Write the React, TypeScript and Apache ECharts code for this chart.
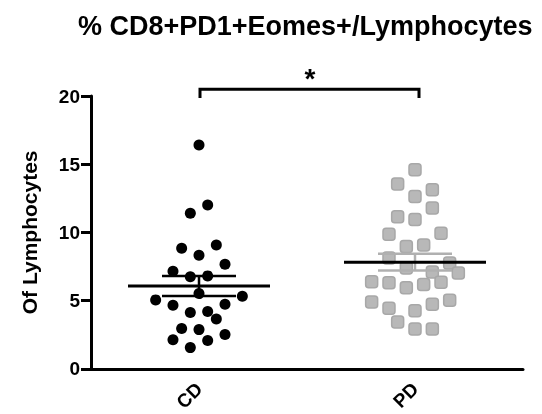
import React, { useEffect, useRef } from "react";
import * as echarts from "echarts";

const categories = ["CD", "PD"];
const cdValues = [16.4, 12.0, 11.4, 8.84, 9.08, 8.33, 7.66, 7.15, 6.74, 6.81, 5.51, 5.31, 5.05, 4.66, 4.73, 4.13, 4.2, 3.65, 2.95, 2.87, 2.51, 2.13, 2.08, 1.55];
const cdSlots = [0, 1, -1, -2, 2, 0, 3, -3, -1, 1, 0, 5, -5, -3, 3, -1, 1, 2, -2, 0, 3, -3, 1, -1];
const pdValues = [14.59, 13.55, 13.12, 12.63, 11.79, 11.14, 10.94, 9.86, 9.93, 8.96, 9.08, 8.12, 7.75, 7.39, 7.1, 7.03, 6.38, 6.3, 5.94, 6.18, 6.35, 4.9, 4.44, 4.25, 4.73, 5.02, 3.43, 2.92, 2.92];
const pdSlots = [0, -2, 2, 0, 2, -2, 0, -3, 3, -1, 1, -3, 4, -1, 2, 5, -5, -3, -1, 1, 3, -5, -3, 0, 2, 4, -2, 0, 2];
const yMin = 0;
const yMax = 20;
const yInterval = 5;
const titleText = "% CD8+PD1+Eomes+/Lymphocytes";
const yAxisName = "Of Lymphocytes";
const significanceMark = "*";
const bracketLevel = 20.5;
const bracketDrop = 0.65;
const starLevel = 21.3;

const SLOT_PX = 8.67;
const FONT = "Liberation Sans";

function meanSem(v: number[]) {
  const n = v.length;
  const m = v.reduce((a, b) => a + b, 0) / n;
  const sd = Math.sqrt(v.reduce((a, b) => a + (b - m) * (b - m), 0) / (n - 1));
  return [m, sd / Math.sqrt(n)];
}

export default function App() {
  const ref = useRef<HTMLDivElement>(null);
  useEffect(() => {
    if (!ref.current) return;
    const chart = echarts.init(ref.current, undefined, { renderer: "svg" });
    const [cdMean, cdSem] = meanSem(cdValues);
    const [pdMean, pdSem] = meanSem(pdValues);
    const cdData = cdValues.map((v, i) => ({ value: [categories[0], v], symbolOffset: [cdSlots[i] * SLOT_PX, 0] }));
    const pdData = pdValues.map((v, i) => ({ value: [categories[1], v], symbolOffset: [pdSlots[i] * SLOT_PX, 0] }));
    chart.setOption({
      animation: false,
      title: {
        text: titleText,
        left: 78,
        top: 12,
        padding: 0,
        textStyle: { fontFamily: FONT, fontWeight: "bold", fontSize: 27, color: "#000" },
      },
      grid: { left: 91, right: 19, top: 96, bottom: 42, containLabel: false },
      xAxis: {
        type: "category",
        data: categories,
        boundaryGap: true,
        axisLine: { lineStyle: { color: "#000", width: 3 } },
        axisTick: { alignWithLabel: true, length: 10, lineStyle: { color: "#000", width: 3 } },
        axisLabel: { rotate: 45, margin: 17, color: "#000", fontFamily: FONT, fontWeight: "bold", fontSize: 19 },
        splitLine: { show: false },
      },
      yAxis: {
        type: "value",
        min: yMin,
        max: yMax,
        interval: yInterval,
        name: yAxisName,
        nameLocation: "middle",
        nameRotate: 90,
        nameGap: 51,
        nameTextStyle: { fontFamily: FONT, fontWeight: "bold", fontSize: 21, color: "#000" },
        axisLine: { show: true, lineStyle: { color: "#000", width: 3 } },
        axisTick: { show: true, length: 10, lineStyle: { color: "#000", width: 3 } },
        axisLabel: { margin: 11, color: "#000", fontFamily: FONT, fontWeight: "bold", fontSize: 19 },
        splitLine: { show: false },
      },
      series: [
        {
          type: "scatter",
          data: cdData,
          symbol: "circle",
          symbolSize: 11,
          itemStyle: { color: "#000", opacity: 1 },
          z: 2,
        },
        {
          type: "scatter",
          data: pdData,
          symbol: "roundRect",
          symbolSize: 12,
          itemStyle: { color: "#b8b8b8", borderColor: "#a8a8a8", borderWidth: 1.5, opacity: 1 },
          z: 2,
        },
        {
          type: "custom",
          z: 3,
          data: [
            [0, cdMean, cdSem],
            [1, pdMean, pdSem],
          ],
          encode: { x: 0, y: 1 },
          renderItem: (params: any, api: any) => {
            const i = api.value(0);
            const m = api.value(1);
            const s = api.value(2);
            const c = api.coord([i, m]);
            const yt = api.coord([i, m + s])[1];
            const yb = api.coord([i, m - s])[1];
            const semColor = i === 0 ? "#000" : "#b0b0b0";
            return {
              type: "group",
              children: [
                { type: "line", shape: { x1: c[0], y1: yt, x2: c[0], y2: yb }, style: { stroke: semColor, lineWidth: 2.5 } },
                { type: "line", shape: { x1: c[0] - 37, y1: yt, x2: c[0] + 37, y2: yt }, style: { stroke: semColor, lineWidth: 2.5 } },
                { type: "line", shape: { x1: c[0] - 37, y1: yb, x2: c[0] + 37, y2: yb }, style: { stroke: semColor, lineWidth: 2.5 } },
                { type: "line", shape: { x1: c[0] - 71, y1: c[1], x2: c[0] + 71, y2: c[1] }, style: { stroke: "#000", lineWidth: 3 } },
              ],
            };
          },
        },
        {
          type: "custom",
          z: 3,
          clip: false,
          data: [[0, 1, bracketLevel]],
          encode: { x: 0, y: 2 },
          renderItem: (params: any, api: any) => {
            const a = api.coord([api.value(0), api.value(2)]);
            const b = api.coord([api.value(1), api.value(2)]);
            const yd = api.coord([api.value(0), api.value(2) - bracketDrop])[1];
            const ys = api.coord([api.value(0), starLevel])[1];
            return {
              type: "group",
              children: [
                {
                  type: "polyline",
                  shape: { points: [[a[0] + 1, yd], [a[0] + 1, a[1]], [b[0] + 4, b[1]], [b[0] + 4, yd]] },
                  style: { stroke: "#000", lineWidth: 3, fill: "none" },
                },
                {
                  type: "text",
                  x: (a[0] + b[0]) / 2 + 3,
                  y: ys,
                  style: { text: significanceMark, fontFamily: FONT, fontWeight: "bold", fontSize: 28, fill: "#000", align: "center", verticalAlign: "middle" },
                },
              ],
            };
          },
        },
      ],
    });
    return () => chart.dispose();
  }, []);
  return <div ref={ref} style={{ position: "fixed", left: 0, top: 0, width: 542, height: 414 }} />;
}
